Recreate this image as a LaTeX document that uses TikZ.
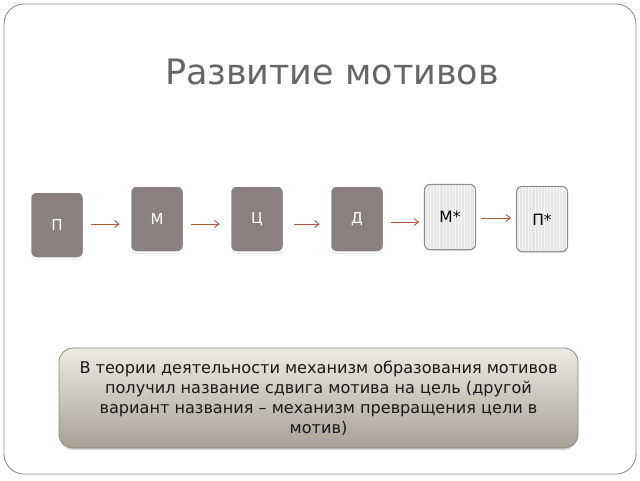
\documentclass[tikz,border=0pt]{standalone}
\usepackage{fontspec}
\setmainfont{DejaVu Sans}
\usetikzlibrary{arrows.meta,shadows,calc}
\definecolor{darkbox}{HTML}{8B8080}
\definecolor{lightbox}{HTML}{E9E6E6}
\definecolor{arrowc}{HTML}{B5553A}
\definecolor{titlec}{HTML}{666666}
\definecolor{framec}{HTML}{8C8C8C}
\definecolor{infotop}{HTML}{EEEBE3}
\definecolor{infobot}{HTML}{A7A195}
\definecolor{infoedge}{HTML}{8E897E}
\begin{document}
\begin{tikzpicture}[x=1pt,y=-1pt,
  darkstep/.style={draw=white,line width=1.5pt,fill=darkbox,rounded corners=6pt,
    minimum width=53pt,minimum height=66pt,text=white,font=\fontsize{15}{17}\selectfont,
    drop shadow={shadow xshift=0pt,shadow yshift=-1.5pt,opacity=0.25}},
  lightstep/.style={draw=black!45,line width=0.6pt,fill=lightbox,rounded corners=6pt,
    minimum width=51pt,minimum height=65pt,
    drop shadow={shadow xshift=0pt,shadow yshift=-1.5pt,opacity=0.25}},
  lighttext/.style={text=black,font=\fontsize{15.5}{17}\selectfont},
  flow/.style={draw=arrowc,line width=0.9pt,-{Straight Barb[length=4.5pt,width=7pt]}},
  infobox/.style={draw=infoedge,line width=0.8pt,rounded corners=14pt,
    top color=infotop,bottom color=infobot,minimum width=519pt,minimum height=100pt,
    align=center,font=\fontsize{16.1}{20}\selectfont,text=black!90,
    drop shadow={shadow xshift=0pt,shadow yshift=-2pt,opacity=0.3}},
]
\useasboundingbox (0,0) rectangle (640,480);
\fill[white] (0,0) rectangle (640,480);
\draw[framec,line width=0.9pt,rounded corners=20pt] (4,4) rectangle (636,474);
\node[text=titlec,font=\fontsize{35}{40}\selectfont] (title) at (332,72) {Развитие мотивов};

\node[darkstep] (p) at (57,225) {П};
\node[darkstep] (m) at (157,219) {М};
\node[darkstep] (c) at (257,219) {Ц};
\node[darkstep] (d) at (357,219) {Д};
\node[lightstep] (ms) at (450,217) {};
\node[lightstep] (ps) at (542,219) {};
\foreach \b in {ms,ps}{
\begin{scope}
\clip[rounded corners=6pt] ($(\b.south west)+(0.5,-0.5)$) rectangle ($(\b.north east)+(-0.5,0.5)$);
\foreach \i in {1,...,16} \draw[white,line width=0.6pt,opacity=0.6] ($(\b.north west)+(\i*3.1,0)$) -- ++(0,70);
\end{scope}
\draw[draw=black!45,line width=0.6pt,rounded corners=6pt] (\b.south west) rectangle (\b.north east);
}
\node[lighttext] (mst) at (ms) {М*};
\node[lighttext] (pst) at ($(ps)+(0,1)$) {П*};

\draw[flow] ($(p.east |- 0,224)+(7,0)$) -- ($(m.west |- 0,224)+(-10,0)$);
\draw[flow] ($(m.east |- 0,224)+(7,0)$) -- ($(c.west |- 0,224)+(-10,0)$);
\draw[flow] ($(c.east |- 0,224)+(10,0)$) -- ($(d.west |- 0,224)+(-10,0)$);
\draw[flow] ($(d.east |- 0,222)+(7,0)$) -- ($(ms.west |- 0,222)+(-5,0)$);
\draw[flow] ($(ms.east |- 0,218)+(5,0)$) -- ($(ps.west |- 0,218)+(-5,0)$);

\node[infobox] (info) at (318.5,398) {В теории деятельности механизм образования мотивов\\получил название сдвига мотива на цель (другой\\вариант названия – механизм превращения цели в\\мотив)};
\end{tikzpicture}
\end{document}
